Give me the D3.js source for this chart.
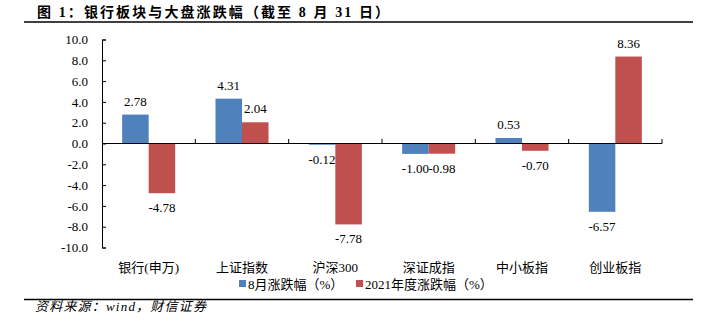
<!DOCTYPE html>
<html><head><meta charset="utf-8">
<script src="https://cdn.jsdelivr.net/npm/d3@7"></script>
<style>
body{margin:0;background:#fff;}
svg{display:block;}
</style></head>
<body><svg id="c" width="708" height="326"></svg>
<script>
const categories = ["银行(申万)", "上证指数", "沪深300", "深证成指", "中小板指", "创业板指"];
const seriesNames = ["8月涨跌幅（%）", "2021年度涨跌幅（%）"];
const augChange = [2.78, 4.31, -0.12, -1.00, 0.53, -6.57];
const ytdChange = [-4.78, 2.04, -7.78, -0.98, -0.70, 8.36];
const yTicks = [10, 8, 6, 4, 2, 0, -2, -4, -6, -8, -10];
const colors = ["#4F81BD", "#C0504D"];
const title = "图 1：银行板块与大盘涨跌幅（截至 8 月 31 日）";
const source = "资料来源：wind，财信证券";

(function () {
const svg = d3.select("#c");
const serif = "'Liberation Serif','Times New Roman',serif";
const cjk = "'Liberation Serif','Noto Sans CJK SC',serif";

// title
svg.append("text").attr("x", 37).attr("y", 17)
  .attr("font-family", cjk).attr("font-weight", "bold").attr("font-size", 14)
  .attr("letter-spacing", 2.1)
  .attr("fill", "#000").text(title);
svg.append("line").attr("x1", 24).attr("x2", 693).attr("y1", 22).attr("y2", 22)
  .attr("stroke", "#000").attr("stroke-width", 1.5);
svg.append("line").attr("x1", 24).attr("x2", 693).attr("y1", 299.5).attr("y2", 299.5)
  .attr("stroke", "#000").attr("stroke-width", 1.5);
svg.append("text").attr("x", 35).attr("y", 311)
  .attr("font-family", cjk).attr("font-style", "italic").attr("font-size", 13)
  .attr("letter-spacing", 1.2)
  .attr("fill", "#000").text(source);

const pl = 102, pr = 662, pt = 39.5, pb = 247.5;
const y = d3.scaleLinear().domain([-10, 10]).range([pb, pt]);
const x0 = d3.scaleBand().domain(categories).range([pl, pr]).paddingInner(0).paddingOuter(0);
const x1 = d3.scaleBand().domain([0, 1]).range([0, x0.bandwidth()]).paddingInner(0).paddingOuter(0.76);

const g = svg.append("g");
const series = [augChange, ytdChange];

// bars
series.forEach((vals, si) => {
  g.selectAll(".b" + si).data(vals).enter().append("rect")
    .attr("x", (d, i) => x0(categories[i]) + x1(si))
    .attr("width", x1.bandwidth())
    .attr("y", d => y(Math.max(0, d)))
    .attr("height", d => Math.abs(y(d) - y(0)))
    .attr("fill", colors[si]);
  g.selectAll(".l" + si).data(vals).enter().append("text")
    .attr("x", (d, i) => x0(categories[i]) + x1(si) + x1.bandwidth() / 2)
    .attr("y", d => d >= 0 ? y(d) - 9 : y(d) + 19)
    .attr("text-anchor", "middle")
    .attr("font-family", serif).attr("font-size", 13).attr("fill", "#000")
    .text(d => d.toFixed(2));
});

// y axis
const yAxis = d3.axisLeft(y).tickValues(yTicks).tickSize(-4).tickPadding(14)
  .tickFormat(d => d.toFixed(1));
const ya = svg.append("g").attr("transform", `translate(${pl},0)`).call(yAxis);
ya.select(".domain").attr("stroke", "#000").attr("stroke-width", 1);
ya.selectAll("text").attr("font-family", serif).attr("font-size", 13).attr("fill", "#000");

// zero line with ticks at category boundaries
svg.append("line").attr("x1", pl).attr("x2", pr).attr("y1", y(0)).attr("y2", y(0))
  .attr("stroke", "#000").attr("stroke-width", 1);
const bounds = categories.map(c => x0(c) + x0.bandwidth());
svg.selectAll(".xt").data(bounds).enter().append("line")
  .attr("x1", d => d).attr("x2", d => d).attr("y1", y(0)).attr("y2", y(0) - 4.5)
  .attr("stroke", "#000");

// category labels
svg.selectAll(".cl").data(categories).enter().append("text")
  .attr("x", d => x0(d) + x0.bandwidth() / 2).attr("y", 272)
  .attr("text-anchor", "middle").attr("font-family", cjk).attr("font-size", 13)
  .attr("fill", "#000").text(d => d);

// legend
const lx = [239, 356];
seriesNames.forEach((n, i) => {
  svg.append("rect").attr("x", lx[i]).attr("y", 280).attr("width", 7).attr("height", 7).attr("fill", colors[i]);
  svg.append("text").attr("x", lx[i] + 9).attr("y", 288.5)
    .attr("font-family", cjk).attr("font-size", 13).attr("fill", "#000").text(n);
});
})();
</script></body></html>
